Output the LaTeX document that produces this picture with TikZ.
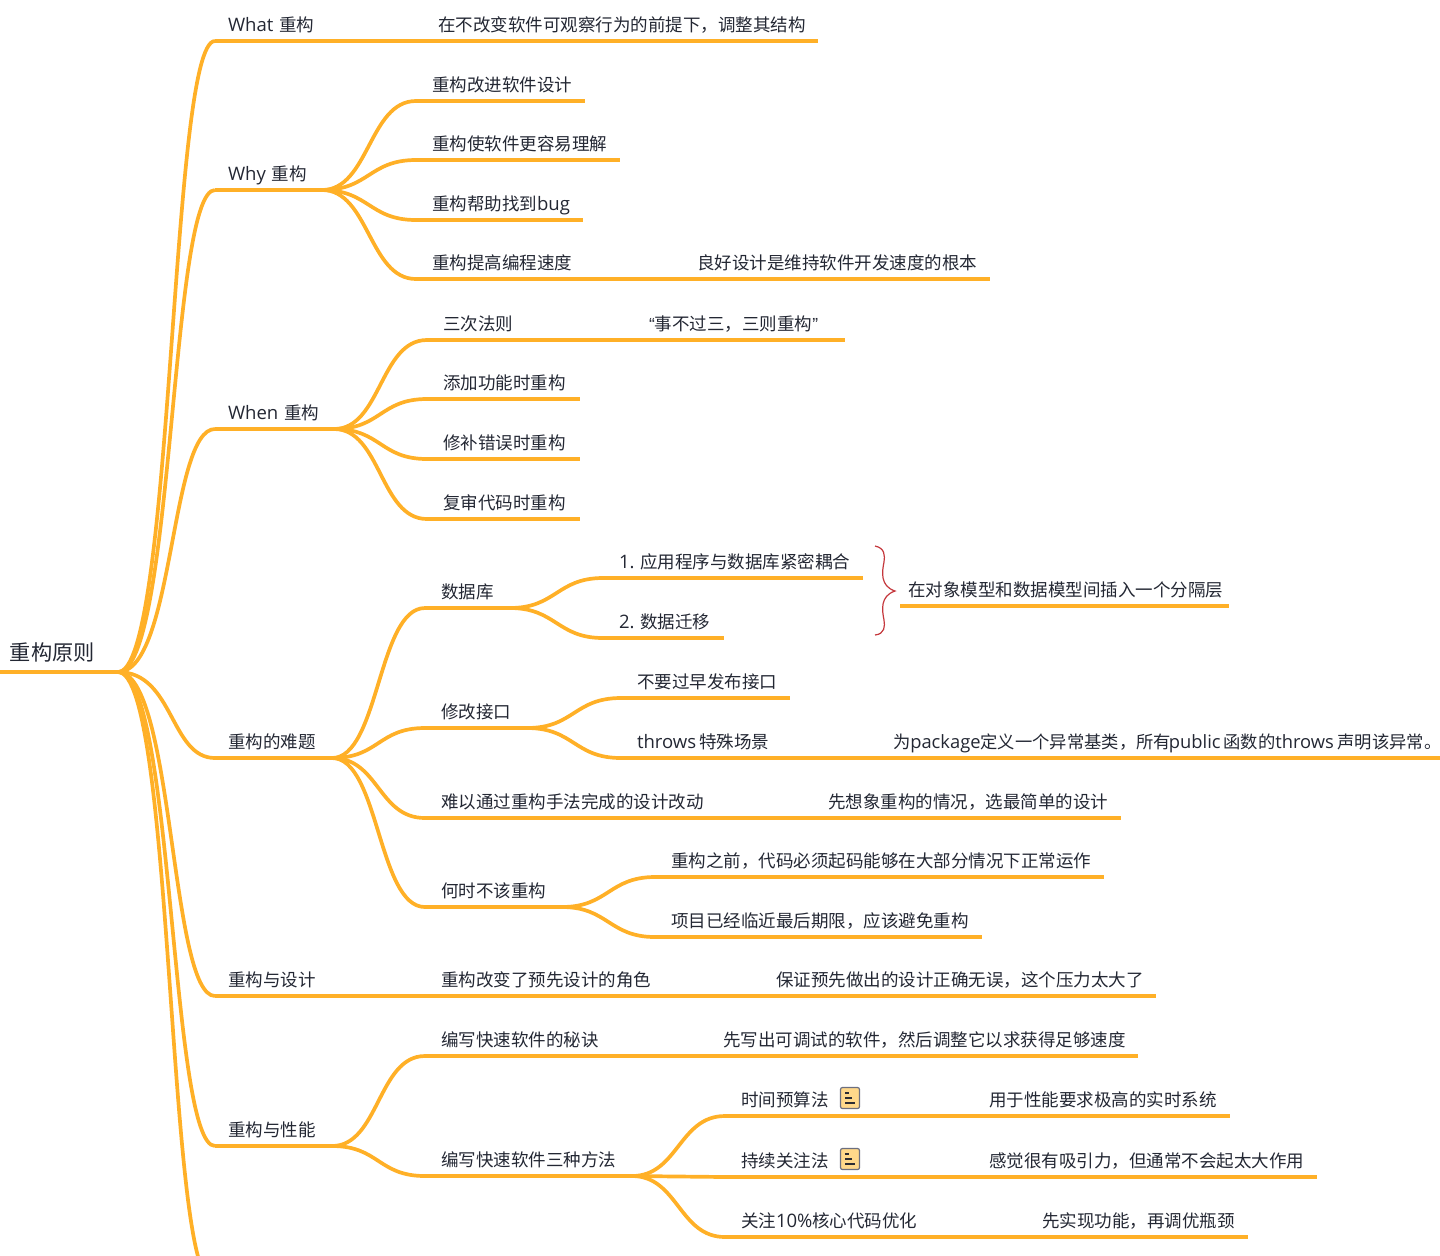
\documentclass[tikz,border=0pt]{standalone}
\usepackage{fontspec}
\setmainfont{Noto Sans CJK SC}
\newfontfamily\lat[Scale=1.06]{Open Sans}
\newfontfamily\quotefont{Liberation Sans}
\definecolor{branchcolor}{HTML}{FFB027}
\definecolor{textcolor}{HTML}{232733}
\definecolor{bracecolor}{HTML}{C4373C}
\definecolor{iconfill}{HTML}{FFD88A}
\definecolor{iconline}{HTML}{6C6F80}
\tikzset{
  branch/.style={draw=branchcolor,line width=1.85pt},
  textbox/.style={anchor=south west,inner xsep=0pt,inner ysep=4pt,outer sep=0pt,align=left,text width=#1,
    text height=7pt,text depth=1pt,text=textcolor,font=\fontsize{8.75}{10}\selectfont},
  topic/.style={textbox=#1,execute at begin node={\hspace*{8pt}}},
  firsttopic/.style={textbox=#1,execute at begin node={\hspace*{6.5pt}}},
  noteicon/.style={draw=iconline,fill=iconfill,rounded corners=1pt,line width=0.6pt,
    minimum width=9.5pt,minimum height=10.5pt,inner sep=0pt},
  noteglyph/.pic={
    \draw[iconline!40!black,line width=0.6pt] (-5,-5)--(-1,-5) (-5,0)--(2,0) (-5,5)--(5,5);
  }
}
\begin{document}
\begin{tikzpicture}[x=0.5pt,y=-0.5pt]
\useasboundingbox (0,0) rectangle (1440,1255);

\node[textbox=59pt,font=\fontsize{10.6}{12}\selectfont,inner ysep=5pt,execute at begin node={\hspace*{5pt}}] (root) at (0,672) {重构原则};
\coordinate (more) at (212,1280);

\node[firsttopic=57.5pt] (what) at (215,41) {{\lat What} 重构};
\node[topic=198pt] (whatdef) at (422,41) {在不改变软件可观察行为的前提下，调整其结构};

\node[firsttopic=53.5pt] (why) at (215,190) {{\lat Why} 重构};
\node[topic=84.5pt] (why1) at (416,101) {重构改进软件设计};
\node[topic=102pt] (why2) at (416,160) {重构使软件更容易理解};
\node[topic=83.5pt] (why3) at (416,220) {重构帮助找到{\lat bug}};
\node[topic=85.5pt] (why4) at (416,279) {重构提高编程速度};
\node[topic=154.5pt] (why4a) at (681,279) {良好设计是维持软件开发速度的根本};

\node[firsttopic=59.5pt] (when) at (215,429) {{\lat When} 重构};
\node[topic=51pt] (when1) at (427,340) {三次法则};
\node[topic=106pt] (when1a) at (633,340) {{\quotefont “}事不过三，三则重构{\quotefont ”}};
\node[topic=76.5pt] (when2) at (427,399) {添加功能时重构};
\node[topic=76.5pt] (when3) at (427,459) {修补错误时重构};
\node[topic=76.5pt] (when4) at (427,519) {复审代码时重构};

\node[firsttopic=58.5pt] (hard) at (215,758) {重构的难题};
\node[topic=42.5pt] (db) at (425,608) {数据库};
\node[topic=130pt] (db1) at (603,578) {{\lat 1.}\kern-1.5pt{} 应用程序与数据库紧密耦合};
\node[topic=60.5pt] (db2) at (603,638) {{\lat 2.}\kern-1.5pt{} 数据迁移};
\node[textbox=164.5pt,execute at begin node={\hspace*{4pt}}] (dbnote) at (900,606) {在对象模型和数据模型间插入一个分隔层};
\node[topic=51pt] (api) at (425,728) {修改接口};
\node[topic=84.5pt] (api1) at (621,698) {不要过早发布接口};
\node[topic=81.5pt] (api2) at (621,758) {{\lat throws}\kern-1.5pt{} 特殊场景};
\node[topic=281.5pt,font=\fontsize{8.65}{10}\selectfont] (api2a) at (877,758) {\mbox{为{\lat package}定义一个异常基类，所有\kern-1pt{\lat public}\kern-1.5pt{} 函数的{\lat throws}\kern-1pt{} 声明该异常。}};
\node[topic=147pt] (change) at (425,818) {难以通过重构手法完成的设计改动};
\node[topic=154.5pt] (change1) at (812,818) {先想象重构的情况，选最简单的设计};
\node[topic=68.5pt] (never) at (425,907) {何时不该重构};
\node[topic=224.5pt] (never1) at (655,877) {重构之前，代码必须起码能够在大部分情况下正常运作};
\node[topic=163.5pt] (never2) at (655,937) {项目已经临近最后期限，应该避免重构};

\node[firsttopic=58pt] (design) at (215,996) {重构与设计};
\node[topic=120.5pt] (design1) at (425,996) {重构改变了预先设计的角色};
\node[topic=198pt] (design1a) at (760,996) {保证预先做出的设计正确无误，这个压力太大了};

\node[firsttopic=58.5pt] (perf) at (215,1146) {重构与性能};
\node[topic=94.5pt] (perf1) at (425,1056) {编写快速软件的秘诀};
\node[topic=215.5pt] (perf1a) at (707,1056) {先写出可调试的软件，然后调整它以求获得足够速度};
\node[topic=103.5pt] (perf2) at (425,1176) {编写快速软件三种方法};
\node[topic=75.5pt] (time) at (725,1116) {时间预算法};
\node[topic=128.5pt] (time1) at (973,1116) {用于性能要求极高的实时系统};
\node[topic=75.5pt] (focus) at (725,1177) {持续关注法};
\node[topic=172pt] (focus1) at (973,1177) {感觉很有吸引力，但通常不会起太大作用};
\node[topic=104pt] (core) at (725,1237) {关注{\lat 10\%}核心代码优化};
\node[topic=111pt] (core1) at (1026,1237) {先实现功能，再调优瓶颈};

% underlines
\foreach \n in {root,what,whatdef,why,why1,why2,why3,why4,why4a,when,when1,when1a,when2,when3,when4,
  hard,db,db1,db2,dbnote,api,api1,api2,api2a,change,change1,never,never1,never2,
  design,design1,design1a,perf,perf1,perf1a,perf2,time,time1,focus,focus1,core,core1}
  \draw[branch] (\n.south west)--(\n.south east);

% root to first level
\foreach \n in {what,why,when,hard,design,perf}
  \draw[branch] (root.south east) .. controls +(56,0) and +(-45,0) .. (\n.south west);
\draw[branch] (root.south east) .. controls +(56,0) and +(-45,0) .. (more);

% second level
\foreach \n in {why1,why2,why3,why4}
  \draw[branch] (why.south east) .. controls +(47,0) and +(-47,0) .. (\n.south west);
\foreach \n in {when1,when2,when3,when4}
  \draw[branch] (when.south east) .. controls +(47,0) and +(-47,0) .. (\n.south west);
\foreach \n in {db,api,change,never}
  \draw[branch] (hard.south east) .. controls +(47,0) and +(-47,0) .. (\n.south west);
\foreach \n in {perf1,perf2}
  \draw[branch] (perf.south east) .. controls +(47,0) and +(-47,0) .. (\n.south west);
\foreach \n in {db1,db2}
  \draw[branch] (db.south east) .. controls +(46,0) and +(-46,0) .. (\n.south west);
\foreach \n in {api1,api2}
  \draw[branch] (api.south east) .. controls +(47,0) and +(-47,0) .. (\n.south west);
\foreach \n in {never1,never2}
  \draw[branch] (never.south east) .. controls +(46,0) and +(-46,0) .. (\n.south west);
\foreach \n in {time,focus,core}
  \draw[branch] (perf2.south east) .. controls +(46,0) and +(-46,0) .. (\n.south west);

% straight links
\draw[branch] (what.south east)--(whatdef.south west);
\draw[branch] (why4.south east)--(why4a.south west);
\draw[branch] (when1.south east)--(when1a.south west);
\draw[branch] (api2.south east)--(api2a.south west);
\draw[branch] (change.south east)--(change1.south west);
\draw[branch] (design.south east)--(design1.south west);
\draw[branch] (design1.south east)--(design1a.south west);
\draw[branch] (perf1.south east)--(perf1a.south west);
\draw[branch] (time.south east)--(time1.south west);
\draw[branch] (focus.south east)--(focus1.south west);
\draw[branch] (core.south east)--(core1.south west);

% note icons
\node[noteicon] (timenote) at (850,1098) {};
\pic at (timenote.center) {noteglyph};
\node[noteicon] (focusnote) at (850,1159) {};
\pic at (focusnote.center) {noteglyph};

% brace
\draw[bracecolor,line width=0.6pt] (875,546) .. controls (885,548) and (885,556) .. (884,562)
  .. controls (882,572) and (880,586) .. (895,591)
  .. controls (880,596) and (882,610) .. (884,620)
  .. controls (885,626) and (885,634) .. (875,635);
\end{tikzpicture}
\end{document}
